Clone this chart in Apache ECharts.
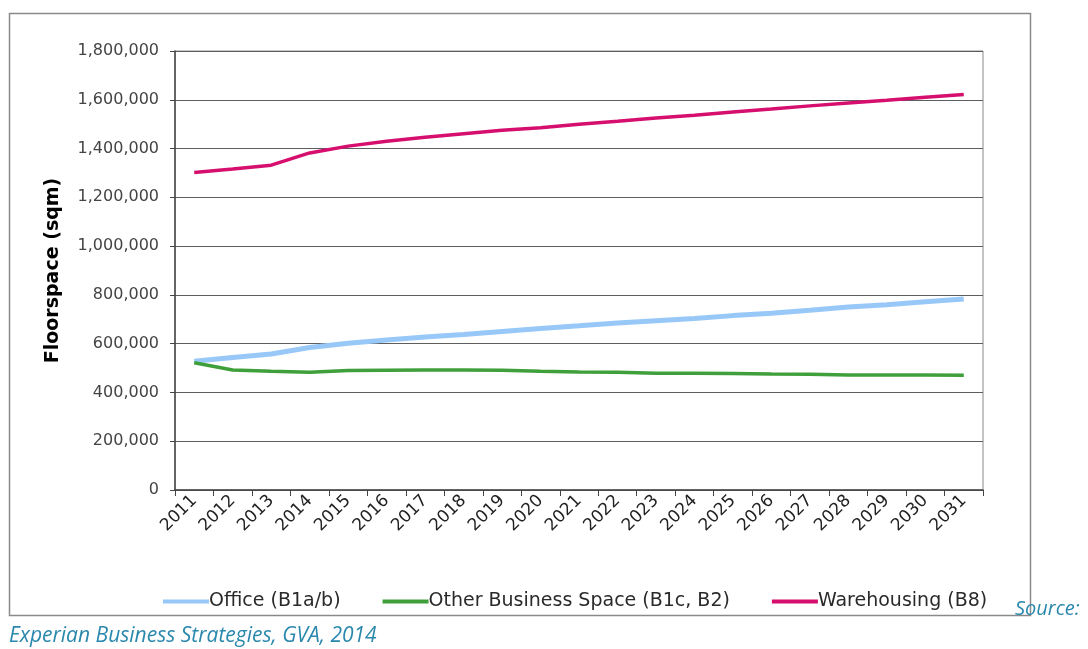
<!DOCTYPE html>
<html>
<head>
<meta charset="utf-8">
<script src="https://cdn.jsdelivr.net/npm/echarts@6/dist/echarts.min.js"></script>
<style>html,body{margin:0;padding:0;background:#fff}#c{width:1088px;height:649px}</style>
</head>
<body>
<div id="c"></div>
<script>
const years = ['2011','2012','2013','2014','2015','2016','2017','2018','2019','2020','2021','2022','2023','2024','2025','2026','2027','2028','2029','2030','2031'];
const office = [528000,543000,558000,584000,602000,615000,627000,638000,650000,662000,673000,685000,694000,703000,715000,725000,737000,750000,760000,772000,783000];
const otherBusiness = [522000,492000,487000,483000,490000,491000,492000,492000,491000,487000,484000,483000,479000,479000,478000,476000,475000,472000,472000,472000,471000];
const warehousing = [1302000,1316000,1332000,1382000,1410000,1430000,1446000,1461000,1475000,1485000,1500000,1512000,1525000,1537000,1550000,1562000,1575000,1587000,1598000,1610000,1622000];
const seriesNames = ['Office (B1a/b)','Other Business Space (B1c, B2)','Warehousing (B8)'];
const yTicks = [0,200000,400000,600000,800000,1000000,1200000,1400000,1600000,1800000];

const FONT = '"DejaVu Sans", sans-serif';
const chart = echarts.init(document.getElementById('c'), null, {renderer:'canvas'});
chart.setOption({
  animation:false,
  backgroundColor:'#fff',
  grid:{left:175,right:105,top:51,bottom:159,show:true,borderColor:'#8a8a8a',borderWidth:1,backgroundColor:'transparent'},
  xAxis:{
    type:'category',data:years,boundaryGap:true,
    axisLine:{lineStyle:{color:'#444',width:1.5}},
    axisTick:{show:true,length:6,interval:0,lineStyle:{color:'#444'}},
    axisLabel:{rotate:45,interval:0,fontSize:17,color:'#222',fontFamily:FONT,margin:8},
    splitLine:{show:false}
  },
  yAxis:{
    type:'value',min:yTicks[0],max:yTicks[yTicks.length-1],interval:200000,
    name:'Floorspace (sqm)',nameLocation:'middle',nameGap:112,
    nameTextStyle:{fontSize:19,fontWeight:'bold',color:'#000',fontFamily:FONT},
    axisLine:{show:true,lineStyle:{color:'#444',width:1.5}},
    axisTick:{show:true,length:5,lineStyle:{color:'#444'}},
    axisLabel:{fontSize:16,color:'#444',fontFamily:FONT,margin:16,
      formatter:v=>v.toLocaleString('en-US')},
    splitLine:{lineStyle:{color:'#5e5e5e',width:1}}
  },
  legend:{
    data:seriesNames,left:158,top:587,icon:'rect',itemWidth:46,itemHeight:4,itemGap:42,
    textStyle:{fontSize:19,color:'#2a2a2a',fontFamily:FONT,padding:[0,0,0,-5]}
  },
  series:[
    {name:seriesNames[0],type:'line',data:office,symbol:'none',lineStyle:{color:'#98c8f8',width:5},itemStyle:{color:'#98c8f8'},z:2},
    {name:seriesNames[1],type:'line',data:otherBusiness,symbol:'none',lineStyle:{color:'#3f9f3a',width:3.5},itemStyle:{color:'#3f9f3a'},z:3},
    {name:seriesNames[2],type:'line',data:warehousing,symbol:'none',lineStyle:{color:'#d60f6f',width:3.5},itemStyle:{color:'#d60f6f'},z:3}
  ],
  graphic:[
    {type:'rect',shape:{x:9.5,y:13.5,width:1021,height:602},style:{fill:'none',stroke:'#8a8a8a',lineWidth:1.5},silent:true},
    {type:'text',x:1015,y:599,style:{text:'Source:',fill:'#2b88ad',font:'italic 20px "Open Sans", sans-serif'}},
    {type:'text',x:9,y:626,style:{text:'Experian Business Strategies, GVA, 2014',fill:'#2b88ad',font:'italic 21px "Open Sans", sans-serif'}}
  ]
});
</script>
</body>
</html>
